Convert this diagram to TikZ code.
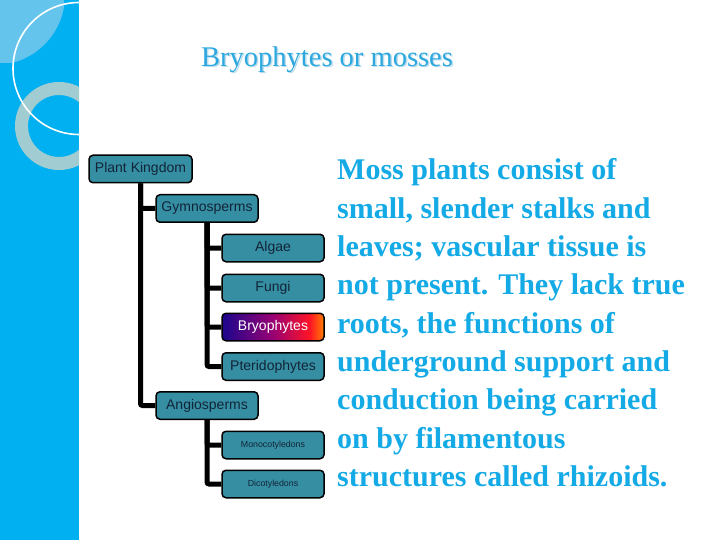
\documentclass[tikz,border=0pt]{standalone}
\usepackage{fontspec}
\setmainfont{Liberation Serif}
\newfontfamily\boxfont{Liberation Sans}
\definecolor{strip}{RGB}{0,176,240}
\definecolor{stripl}{RGB}{100,196,236}
\definecolor{ringc}{RGB}{160,204,210}
\definecolor{boxteal}{RGB}{54,142,163}
\definecolor{boxtext}{RGB}{18,36,56}
\definecolor{titleblue}{RGB}{45,168,222}
\definecolor{titleshadow}{RGB}{190,222,238}
\definecolor{bodyblue}{RGB}{20,170,230}
\pgfdeclarehorizontalshading{bryo}{100bp}{rgb(0bp)=(0.12,0.04,0.55); rgb(27bp)=(0.14,0.02,0.55); rgb(50bp)=(0.6,0.0,0.45); rgb(68bp)=(1,0.08,0.15); rgb(75bp)=(1,0.5,0.0); rgb(100bp)=(1,0.5,0.0)}
\tikzset{
  tbox/.style={draw=black, line width=1.5pt, rounded corners=4pt, fill=boxteal,
    minimum width=102pt, minimum height=27.5pt, inner sep=0pt, text=boxtext,
    font=\boxfont\fontsize{14}{16}\selectfont},
  smallbox/.style={tbox, font=\boxfont\fontsize{8.8}{10}\selectfont},
  conn/.style={draw=black, line width=5pt, rounded corners=2pt},
  bodyline/.style={anchor=base west, inner sep=0pt, text=bodyblue,
    font=\bfseries\fontsize{30}{38}\selectfont},
}
\begin{document}
\begin{tikzpicture}[x=1pt,y=-1pt]
\useasboundingbox (0,0) rectangle (720,540);
\fill[white] (0,0) rectangle (720,540);
% left decorative strip
\fill[strip] (0,0) rectangle (79,540);
\begin{scope}
  \clip (0,0) rectangle (79,540);
  \begin{scope}
    \clip (0,0) rectangle (64,63);
    \fill[stripl] (-5,-5) circle[radius=70];
  \end{scope}
  \draw[ringc, line width=13pt] (59,126) circle[radius=37.5];
  \draw[white, line width=1.6pt] (79,68.5) circle[radius=66];
\end{scope}
% title
\node[anchor=base west, inner sep=0pt, text=titleshadow, font=\fontsize{28.5}{32}\selectfont] (titleshadow) at (202.5,68) {Bryophytes or mosses};
\node[anchor=base west, inner sep=0pt, text=titleblue, font=\fontsize{28.5}{32}\selectfont] (title) at (201,66.5) {Bryophytes or mosses};
% tree
\node[tbox, minimum width=103pt] (pk) at (140.5,169) {Plant Kingdom};
\node[tbox] (gym) at (207,208.5) {Gymnosperms};
\node[tbox] (algae) at (273,248) {Algae};
\node[tbox] (fungi) at (273,288) {Fungi};
\node[tbox, shading=bryo, text=white] (bryo) at (273,327) {Bryophytes};
\node[tbox] (pter) at (273,366.5) {Pteridophytes};
\node[tbox] (angio) at (207,405.5) {Angiosperms};
\node[smallbox] (mono) at (273,445) {Monocotyledons};
\node[smallbox] (dico) at (273,484) {Dicotyledons};
\draw[conn] (pk.south) |- (gym.west);
\draw[conn] (pk.south) |- (angio.west);
\draw[conn] (gym.south) |- (algae.west);
\draw[conn] (gym.south) |- (fungi.west);
\draw[conn] (gym.south) |- (bryo.west);
\draw[conn] (gym.south) |- (pter.west);
\draw[conn] (angio.south) |- (mono.west);
\draw[conn] (angio.south) |- (dico.west);
% body text
\node[bodyline] (l1) at (337,180) {Moss plants consist of};
\node[bodyline] (l2) at (337,218.3) {small, slender stalks and};
\node[bodyline] (l3) at (337,256.6) {leaves; vascular tissue is};
\node[bodyline] (l4) at (337,294.9) {not present. They lack true};
\node[bodyline] (l5) at (337,333.2) {roots, the functions of};
\node[bodyline] (l6) at (337,371.5) {underground support and};
\node[bodyline] (l7) at (337,409.8) {conduction being carried};
\node[bodyline] (l8) at (337,448.1) {on by filamentous};
\node[bodyline] (l9) at (337,486.4) {structures called rhizoids.};
\end{tikzpicture}
\end{document}
